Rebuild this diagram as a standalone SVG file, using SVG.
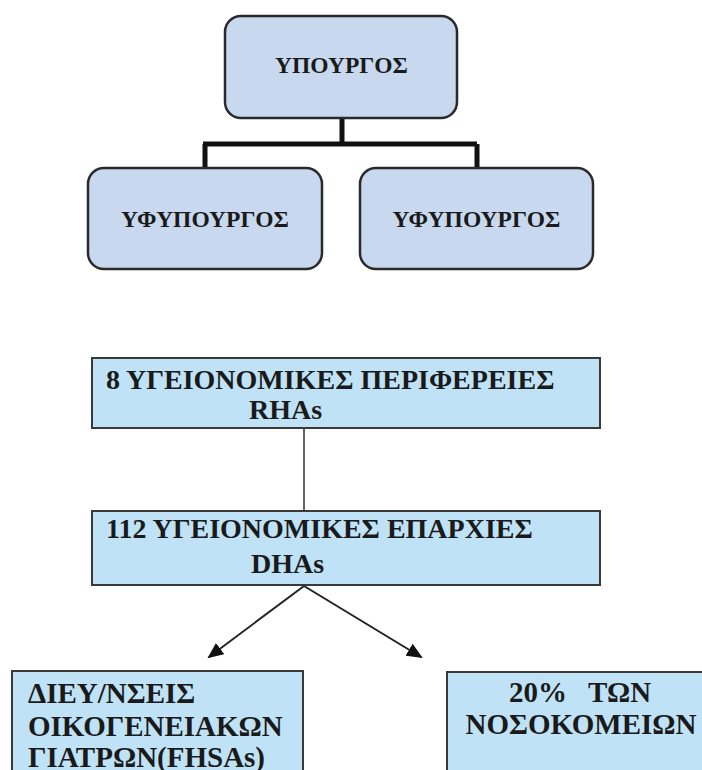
<svg xmlns="http://www.w3.org/2000/svg" width="702" height="770" viewBox="0 0 702 770">
<defs>
<style>
.rbox{fill:#c8d9ef;stroke:#2a2a2a;stroke-width:2.5}
.sbox{fill:#bfe2f6;stroke:#3a3a3a;stroke-width:2}
text{font-family:"Liberation Serif","Times New Roman",serif;font-weight:bold;fill:#1a1a1a}
.t1{font-size:23.5px;text-anchor:middle}
.t2{font-size:28px}
.t3{font-size:29px}
.elbow{fill:none;stroke:#111;stroke-width:5}
.thin{fill:none;stroke:#333;stroke-width:1.5}
.arr{fill:none;stroke:#222;stroke-width:2;marker-end:url(#ah)}
</style>
<marker id="ah" markerWidth="16" markerHeight="14" refX="14" refY="7" orient="auto" markerUnits="userSpaceOnUse" viewBox="0 0 16 14">
<path d="M0,0 L16,7 L0,14 z" fill="#111"/>
</marker>
</defs>
<rect width="702" height="770" fill="#ffffff"/>
<g id="connectors">
<path class="elbow" d="M342,118 V144 M203,144 H477 M205,144 V169 M477,144 V169"/>
<line class="thin" x1="304" y1="428" x2="304" y2="511"/>
<line class="arr" x1="304" y1="586" x2="209" y2="657"/>
<line class="arr" x1="304" y1="586" x2="421" y2="657"/>
</g>
<g id="node-minister">
<rect class="rbox" x="225" y="16" width="232" height="102" rx="16"/>
<text class="t1" x="341.5" y="73">ΥΠΟΥΡΓΟΣ</text>
</g>
<g id="node-deputy1">
<rect class="rbox" x="88" y="168" width="234" height="101" rx="16"/>
<text class="t1" x="205" y="227">ΥΦΥΠΟΥΡΓΟΣ</text>
</g>
<g id="node-deputy2">
<rect class="rbox" x="360" y="168" width="233" height="101" rx="16"/>
<text class="t1" x="476.5" y="227">ΥΦΥΠΟΥΡΓΟΣ</text>
</g>
<g id="node-rha">
<rect class="sbox" x="92" y="358" width="508" height="70"/>
<text class="t2" x="106" y="389">8 ΥΓΕΙΟΝΟΜΙΚΕΣ ΠΕΡΙΦΕΡΕΙΕΣ</text>
<text class="t2" x="249" y="419">RHAs</text>
</g>
<g id="node-dha">
<rect class="sbox" x="92" y="511" width="508" height="74"/>
<text class="t2" x="106" y="538">112 ΥΓΕΙΟΝΟΜΙΚΕΣ ΕΠΑΡΧΙΕΣ</text>
<text class="t2" x="251" y="573">DHAs</text>
</g>
<g id="node-fhsa">
<rect class="sbox" x="12" y="671" width="291" height="110"/>
<text class="t3" x="28" y="703">ΔΙΕΥ/ΝΣΕΙΣ</text>
<text class="t3" x="28" y="736">ΟΙΚΟΓΕΝΕΙΑΚΩΝ</text>
<text class="t3" x="28" y="767">ΓΙΑΤΡΩΝ(FHSAs)</text>
</g>
<g id="node-hospitals">
<rect class="sbox" x="447" y="672" width="270" height="110"/>
<text class="t3" x="580" y="702" text-anchor="middle" xml:space="preserve" style="white-space:pre">20%   ΤΩΝ</text>
<text class="t3" x="581" y="734" text-anchor="middle">ΝΟΣΟΚΟΜΕΙΩΝ</text>
</g>
</svg>
